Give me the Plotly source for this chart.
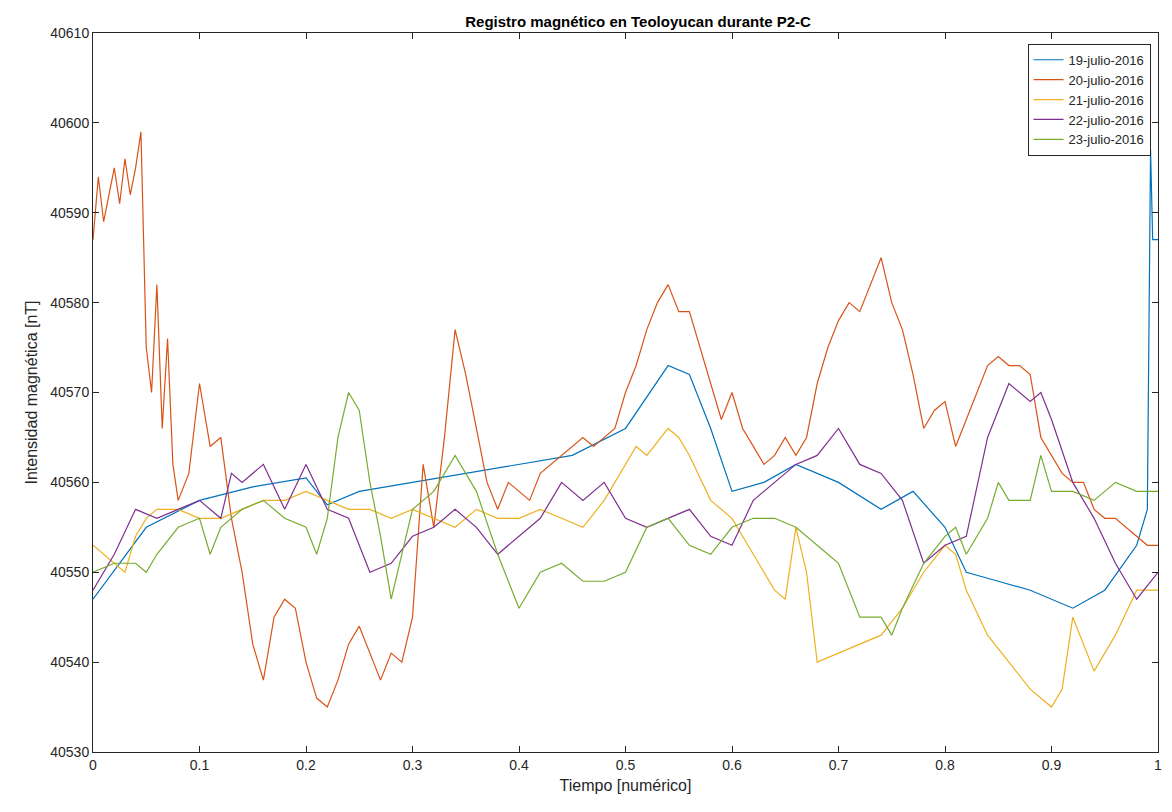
import plotly.graph_objects as go

labels = ["19-julio-2016","20-julio-2016","21-julio-2016","22-julio-2016","23-julio-2016"]
colors = ["#0072BD","#D95319","#EDB120","#7E2F8E","#77AC30"]
xticks = [0,0.1,0.2,0.3,0.4,0.5,0.6,0.7,0.8,0.9,1]
xticktext = ["0","0.1","0.2","0.3","0.4","0.5","0.6","0.7","0.8","0.9","1"]

t1 = [0,0.05,0.1,0.15,0.2,0.22,0.25,0.3,0.35,0.4,0.45,0.5,0.54,0.56,0.58,0.6,0.63,0.66,0.7,0.74,0.77,0.8,0.82,0.85,0.88,0.92,0.95,0.98,0.99,0.993,0.995,1.0]
v1 = [40547,40555,40558,40559.5,40560.5,40557.5,40559,40560,40561,40562,40563,40566,40573,40572,40566,40559,40560,40562,40560,40557,40559,40555,40550,40549,40548,40546,40548,40553,40557,40597,40587,40587]

t2 = [0,0.005,0.01,0.02,0.025,0.03,0.035,0.04,0.045,0.05,0.055,0.06,0.065,0.07,0.075,0.08,0.09] + [round(0.1+0.01*i,2) for i in range(91)]
v2 = [40587,40594,40589,40595,40591,40596,40592,40595,40599,40575,40570,40582,40566,40576,40562,40558,40561,
      40571,40564,40565,40556,40550,40542,40538,40545,40547,40546,40540,40536,40535,40538,40542,40544,40541,40538,40541,40540,
      40545,40562,40555,40565,40577,40572,40566,40560,40557,40560,40559,40558,40561,40562,40563,40564,40565,40564,40565,40566,
      40570,40573,40577,40580,40582,40579,40579,40575,40571,40567,40570,40566,40564,40562,40563,40565,40563,40565,40571,40575,
      40578,40580,40579,40582,40585,40580,40577,40572,40566,40568,40569,40564,40567,40570,40573,40574,40573,40573,40572,40565,
      40563,40561,40560,40560,40557,40556,40556,40555,40554,40553,40553]

t3 = [0,0.02,0.03,0.04,0.05,0.06,0.08,0.1,0.12,0.14,0.16,0.18,0.2,0.22,0.24,0.26,0.28,0.3,0.32,0.34,0.36,0.38,0.4,0.42,0.44,0.46,0.48,0.5,0.51,0.52,0.54,0.55,0.56,0.58,0.6,0.62,0.64,0.65,0.66,0.67,0.68,0.7,0.72,0.74,0.76,0.78,0.8,0.81,0.82,0.84,0.86,0.88,0.9,0.91,0.92,0.93,0.94,0.96,0.98,1.0]
v3 = [40553,40551,40550,40554,40556,40557,40557,40556,40556,40557,40558,40558,40559,40558,40557,40557,40556,40557,40556,40555,40557,40556,40556,40557,40556,40555,40558,40562,40564,40563,40566,40565,40563,40558,40556,40552,40548,40547,40555,40550,40540,40541,40542,40543,40546,40550,40553,40552,40548,40543,40540,40537,40535,40537,40545,40542,40539,40543,40548,40548]

t4 = [0,0.02,0.04,0.06,0.08,0.1,0.12,0.13,0.14,0.16,0.18,0.2,0.22,0.24,0.26,0.28,0.3,0.32,0.34,0.36,0.38,0.4,0.42,0.44,0.46,0.48,0.5,0.52,0.54,0.56,0.58,0.6,0.62,0.64,0.66,0.68,0.7,0.72,0.74,0.76,0.78,0.8,0.82,0.84,0.86,0.88,0.89,0.9,0.92,0.94,0.96,0.98,1.0]
v4 = [40548,40552,40557,40556,40557,40558,40556,40561,40560,40562,40557,40562,40557,40556,40550,40551,40554,40555,40557,40555,40552,40554,40556,40560,40558,40560,40556,40555,40556,40557,40554,40553,40558,40560,40562,40563,40566,40562,40561,40558,40551,40553,40554,40565,40571,40569,40570,40567,40560,40556,40551,40547,40550]

t5 = [0,0.02,0.04,0.05,0.06,0.08,0.1,0.11,0.12,0.14,0.16,0.18,0.2,0.21,0.22,0.23,0.24,0.25,0.26,0.27,0.28,0.29,0.3,0.32,0.34,0.36,0.38,0.4,0.42,0.44,0.46,0.48,0.5,0.52,0.54,0.56,0.58,0.6,0.62,0.64,0.66,0.68,0.7,0.72,0.74,0.75,0.76,0.78,0.8,0.81,0.82,0.84,0.85,0.86,0.88,0.89,0.9,0.92,0.94,0.96,0.98,1.0]
v5 = [40550,40551,40551,40550,40552,40555,40556,40552,40555,40557,40558,40556,40555,40552,40556,40565,40570,40568,40560,40554,40547,40552,40557,40559,40563,40559,40552,40546,40550,40551,40549,40549,40550,40555,40556,40553,40552,40555,40556,40556,40555,40553,40551,40545,40545,40543,40546,40551,40554,40555,40552,40556,40560,40558,40558,40563,40559,40559,40558,40560,40559,40559]

fig = go.Figure()
for t, v, lab, c in zip([t1,t2,t3,t4,t5],[v1,v2,v3,v4,v5],labels,colors):
    fig.add_trace(go.Scatter(x=t, y=v, mode="lines", name=lab, line=dict(color=c, width=1.2)))

ax = dict(showgrid=False, zeroline=False, showline=True, linecolor="#262626", mirror="ticks",
          ticks="inside", ticklen=6, tickcolor="#262626", tickfont=dict(size=14, color="#262626"))
fig.update_layout(
    width=1156, height=804, paper_bgcolor="white", plot_bgcolor="white",
    font=dict(family="Liberation Sans, Arial", color="#262626"),
    margin=dict(l=85, r=2, t=25, b=60),
    title=dict(text="<b>Registro magnético en Teoloyucan durante P2-C</b>", x=0.545, xanchor="center", y=0.99, yanchor="top", font=dict(size=15, color="black")),
    xaxis=dict(range=[0,1], tickmode="array", tickvals=xticks, ticktext=xticktext, ticklabeloverflow="allow",
               title=dict(text="Tiempo [numérico]", font=dict(size=16), standoff=8), **ax),
    yaxis=dict(range=[40530,40610], dtick=10, tickformat="d", title=dict(text="Intensidad magnética [nT]", font=dict(size=16), standoff=8), **ax),
    legend=dict(x=0.993, y=0.985, xanchor="right", yanchor="top", bordercolor="#262626", borderwidth=1,
                bgcolor="white", font=dict(size=13), tracegroupgap=0),
    showlegend=True,
)
fig.write_html("out.html")
